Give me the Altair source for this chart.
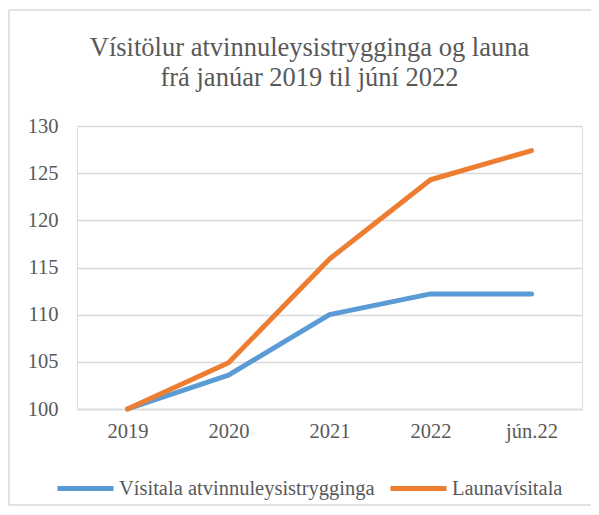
import altair as alt
import pandas as pd

categories = ["2019", "2020", "2021", "2022", "jún.22"]
series_names = ["Vísitala atvinnuleysistrygginga", "Launavísitala"]
atvinnuleysis = [100.0, 103.6, 110.0, 112.2, 112.2]
launa = [100.0, 104.9, 115.9, 124.3, 127.4]
y_ticks = [100, 105, 110, 115, 120, 125, 130]
title_lines = ["Vísitölur atvinnuleysistrygginga og launa", "frá janúar 2019 til júní 2022"]
colors = ["#5B9BD5", "#ED7D31"]

rows = []
for name, vals in zip(series_names, [atvinnuleysis, launa]):
    for c, v in zip(categories, vals):
        rows.append({"cat": c, "value": v, "series": name})
df = pd.DataFrame(rows)

FONT = "Liberation Serif, Times New Roman, serif"
TEXT = "#595959"
GRID = "#D9D9D9"

one = pd.DataFrame({"a": [0]})
border_left = alt.Chart(one).mark_rule(stroke=GRID, strokeWidth=1.5).encode(
    x=alt.value(-68), y=alt.value(-116), y2=alt.value(379))
border_top = alt.Chart(one).mark_rule(stroke=GRID, strokeWidth=1.5).encode(
    x=alt.value(-68), x2=alt.value(530), y=alt.value(-116))
border_bottom = alt.Chart(one).mark_rule(stroke=GRID, strokeWidth=1.5).encode(
    x=alt.value(-68), x2=alt.value(530), y=alt.value(379))

lines = alt.Chart(df).mark_line(
    strokeWidth=5, strokeCap="round", strokeJoin="round"
).encode(
    x=alt.X("cat:N", sort=categories, title=None,
            axis=alt.Axis(labelAngle=0, ticks=False, domain=True, domainColor=GRID,
                          domainWidth=1.5, labelPadding=12, labelFontSize=20.5,
                          labelFont=FONT, labelColor=TEXT, grid=False)),
    y=alt.Y("value:Q", title=None,
            scale=alt.Scale(domain=[100, 130], nice=False, zero=False),
            axis=alt.Axis(values=y_ticks, ticks=False, domain=False, labelPadding=19,
                          labelFontSize=20.5, labelFont=FONT, labelColor=TEXT,
                          grid=True, gridColor=GRID, gridWidth=1.5)),
    color=alt.Color("series:N", sort=series_names,
                    scale=alt.Scale(domain=series_names, range=colors),
                    legend=alt.Legend(orient="none", legendX=-22, legendY=332,
                                      direction="horizontal", title=None,
                                      symbolType="stroke", symbolSize=3136,
                                      symbolStrokeWidth=5, labelFontSize=20.5,
                                      labelFont=FONT, labelColor=TEXT, labelOffset=3,
                                      columnPadding=5, labelLimit=400)),
)

chart = alt.layer(border_left, border_top, border_bottom, lines).properties(
    width=505, height=283,
    autosize=alt.AutoSizeParams(type="none"),
    padding={"left": 69, "top": 118, "right": 9, "bottom": 98},
    title=alt.TitleParams(text=title_lines, font=FONT, fontSize=26.5, fontWeight="normal",
                          color=TEXT, lineHeight=30, anchor="middle", dx=-20, offset=34,
                          dy=116),
).configure_view(stroke=None).configure(background="white", font=FONT)

chart.save("out.html", embed_options={"renderer": "svg", "actions": False})
